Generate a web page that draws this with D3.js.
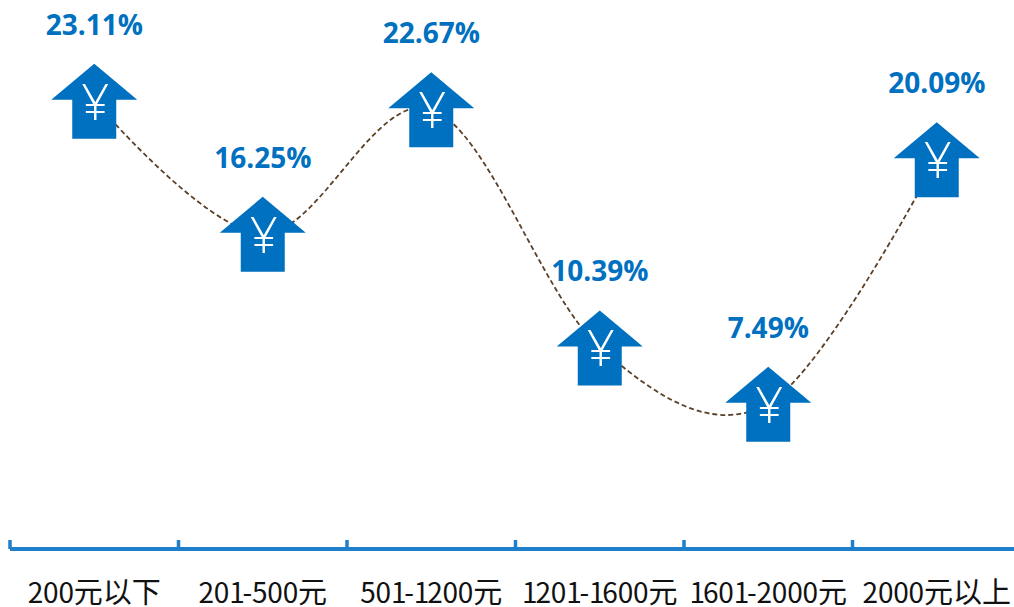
<!DOCTYPE html>
<html><head><meta charset="utf-8">
<script src="https://cdn.jsdelivr.net/npm/d3@7"></script>
<style>html,body{margin:0;padding:0;background:#fff;overflow:hidden}svg{display:block}
.cat{font-family:"Noto Sans CJK SC","Noto Sans",sans-serif;font-size:28px;fill:#111}
.cat .num{letter-spacing:-0.2px}
.cat .one{letter-spacing:-2.2px}
.cat .han{font-size:29px}
.val{font-family:"Open Sans","Noto Sans",sans-serif;font-weight:700;font-size:28px;fill:#0070C0}
.yen{font-family:"Open Sans",sans-serif;font-weight:300;font-size:49px;fill:#fff}
</style></head><body><script>
const categories=["200元以下","201-500元","501-1200元","1201-1600元","1601-2000元","2000元以上"];
const shareValues=[23.11,16.25,22.67,10.39,7.49,20.09];
const W=1014,H=607;
const svg=d3.select("body").append("svg").attr("width",W).attr("height",H);
const x=d3.scaleBand().domain(categories).range([10,1021]);
const y=d3.scaleLinear().domain([0,28.3]).range([549,0]);
const cx=c=>x(c)+x.bandwidth()/2;
const points=categories.map((c,i)=>({c,v:shareValues[i]}));

const axis=svg.append("g").attr("transform",`translate(0,${y(0)})`)
 .call(d3.axisBottom(x).tickSize(0).tickPadding(0));
axis.select(".domain").remove();
axis.selectAll("text").attr("class","cat").attr("fill",null).attr("font-size",null).attr("font-family",null)
 .attr("dy",null).attr("y",54).attr("dominant-baseline",null)
 .each(function(c){
   const t=d3.select(this).text(null);
   c.match(/1+|[02-9-]+|[^0-9-]+/g).forEach(s=>t.append("tspan")
     .attr("class",/^1/.test(s)?"one":/[0-9-]/.test(s)?"num":"han").text(s));
 });
const edges=categories.map(c=>x(c));
svg.append("line").attr("x1",10).attr("x2",W).attr("y1",y(0)).attr("y2",y(0)).attr("stroke","#1F7FCB").attr("stroke-width",4);
svg.selectAll(".tick-m").data(edges).join("line").attr("x1",d=>d).attr("x2",d=>d)
 .attr("y1",y(0)-9).attr("y2",y(0)).attr("stroke","#1F7FCB").attr("stroke-width",3.5);

svg.append("path").datum(points)
 .attr("d",d3.line().x(d=>cx(d.c)).y(d=>y(d.v)).curve(d3.curveCardinal.tension(0)))
 .attr("fill","none").attr("stroke","#5B3F27").attr("stroke-width",1.8).attr("stroke-dasharray","5 3");

const arrow="M0,-37L43,-1H22V38H-22V-1H-43Z";
const g=svg.selectAll(".mark").data(points).join("g").attr("transform",d=>`translate(${cx(d.c)},${y(d.v)})`);
g.append("path").attr("d",arrow).attr("fill","#0070C0");
g.append("text").attr("class","yen").attr("text-anchor","middle").attr("x",1).attr("y",19).text("¥");
g.append("text").attr("class","val").attr("text-anchor","middle").attr("y",-66).text(d=>d.v.toFixed(2)+"%");
</script></body></html>
